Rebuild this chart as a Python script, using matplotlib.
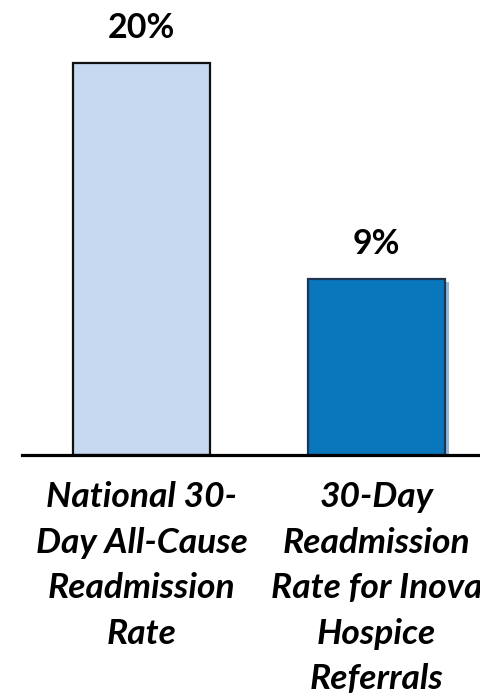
import matplotlib
matplotlib.use("Agg")
import matplotlib.pyplot as plt
import matplotlib.patheffects as pe

categories = [
    "National 30-\nDay All-Cause\nReadmission\nRate",
    "30-Day\nReadmission\nRate for Inova\nHospice\nReferrals",
]
values = [20, 9]
value_labels = ["20%", "9%"]
colors = ["#C6D9F0", "#0A77BD"]
edge_colors = ["#111111", "#1E3550"]

W, H = 481, 697
fig = plt.figure(figsize=(W / 100, H / 100), dpi=100)
fig.patch.set_facecolor("white")

# axes in pixel terms: baseline at y=455 from top, spanning x 22..481
ax = fig.add_axes([22 / W, (H - 455) / H, (481 - 22) / W, 455 / H])
ax.set_xlim(-0.5085, 1.4447)
ax.set_ylim(0, 455 / 19.6)

fam = ["Lato", "DejaVu Sans"]

x = list(range(len(values)))
bars = ax.bar(x, values, width=0.583, color=colors, edgecolor=edge_colors,
              linewidth=1.6, zorder=2)
# light-blue drop shadow on the second bar
bars[1].set_path_effects([
    pe.SimplePatchShadow(offset=(2.8, -2.8), shadow_rgbFace="#8DBAE4", alpha=1.0),
    pe.Normal(),
])

for xi, v, lab in zip(x, values, value_labels):
    ax.annotate(lab, (xi, v), xytext=(0, 25), textcoords="offset points",
                ha="center", va="center", fontsize=24.5, fontweight="bold",
                family=fam)

for s in ["top", "right", "left"]:
    ax.spines[s].set_visible(False)
ax.spines["bottom"].set_linewidth(2.3)
ax.spines["bottom"].set_color("black")
ax.spines["bottom"].set_zorder(3)
ax.set_yticks([])
ax.set_xticks(x)
ax.set_xticklabels(categories, fontsize=25.5, fontweight="bold", style="italic",
                   family=fam, linespacing=1.52, va="top")
ax.tick_params(axis="x", length=0, pad=19)

fig.savefig("out.png", dpi=100, facecolor="white")
